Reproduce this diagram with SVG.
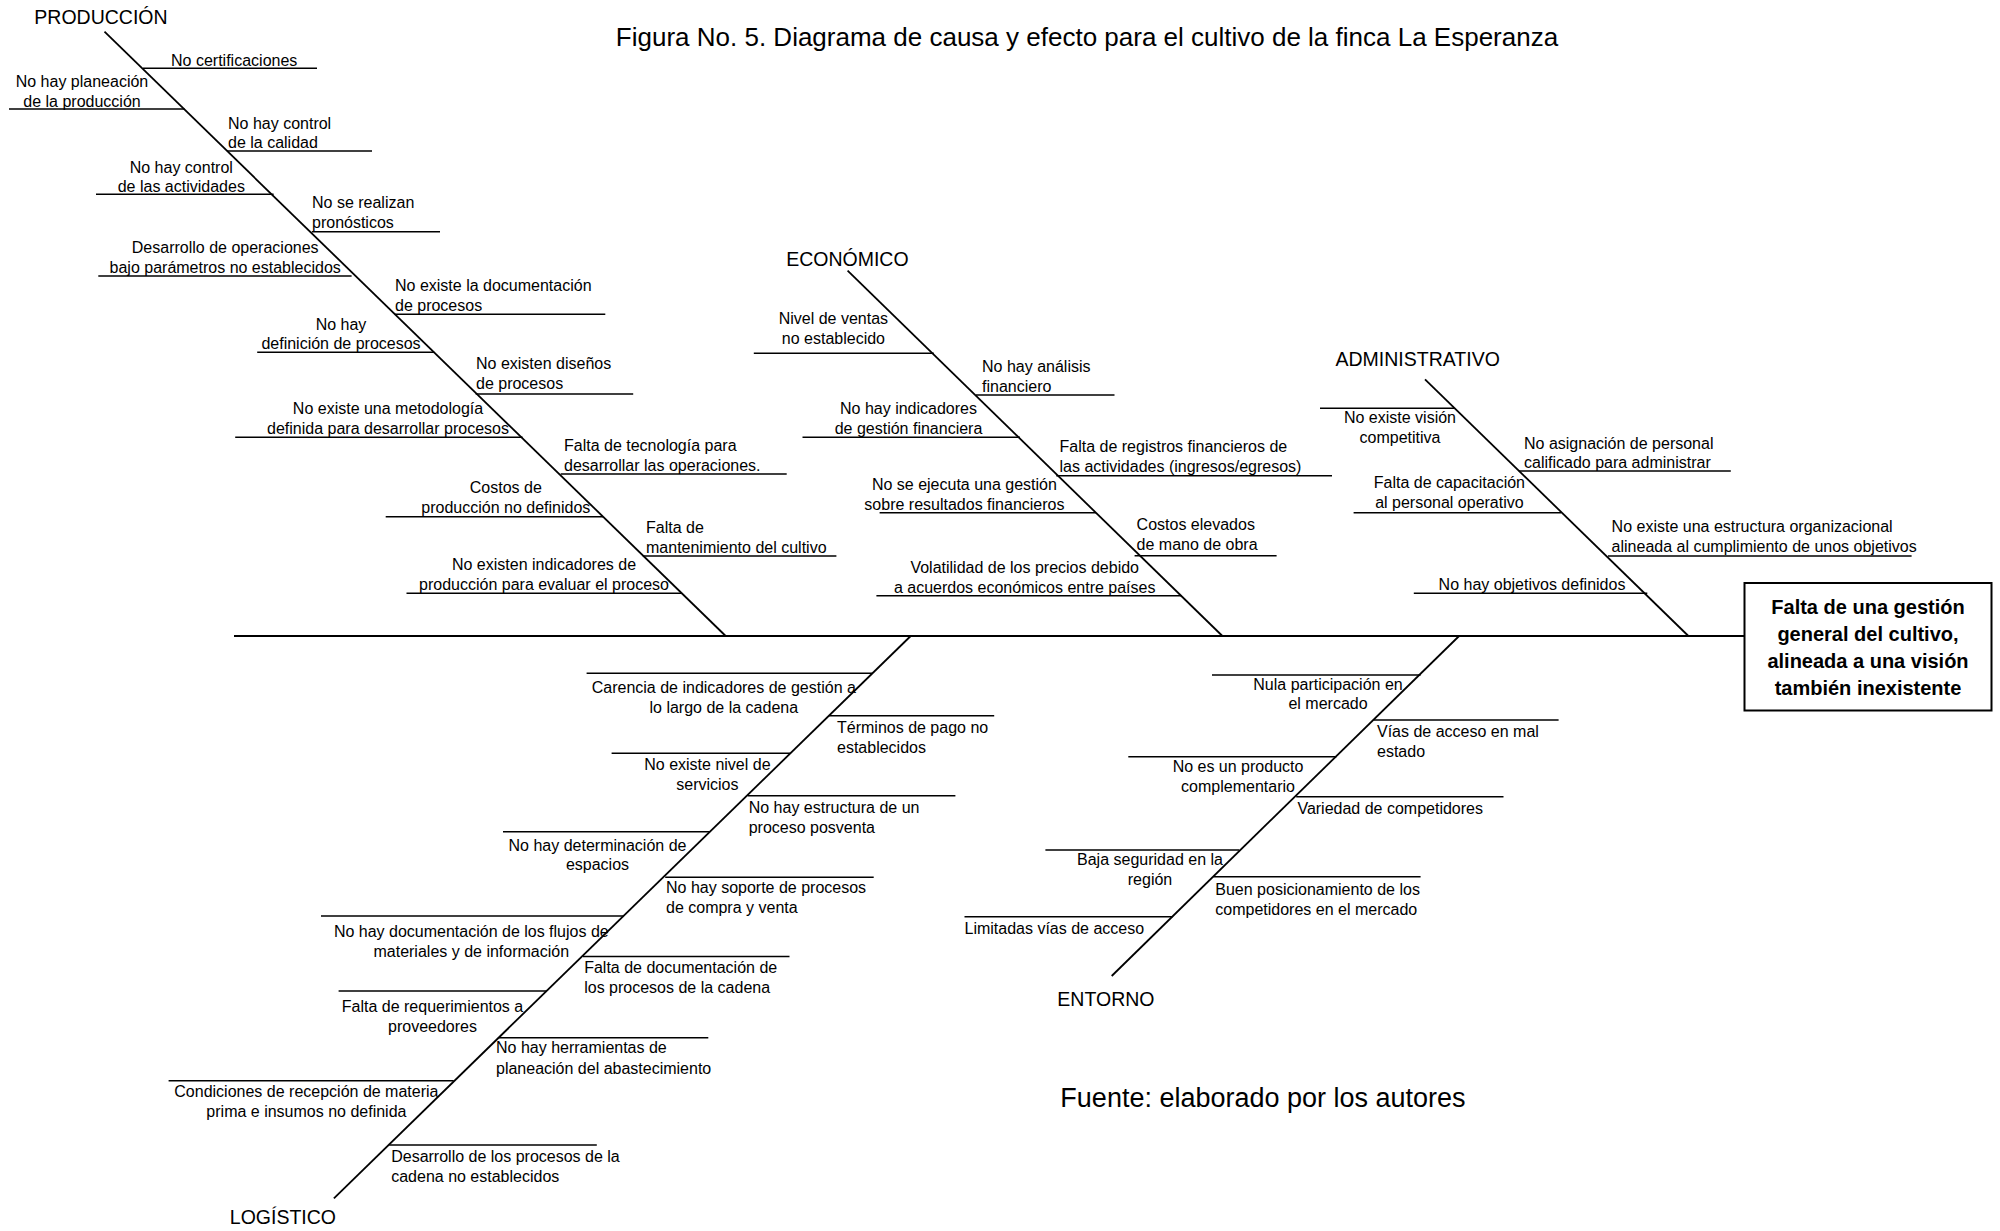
<svg xmlns="http://www.w3.org/2000/svg" width="2000" height="1231" viewBox="0 0 2000 1231">
<style>
  text { font-family: "Liberation Sans", Arial, sans-serif; fill: #000; }
  .c { font-size: 16px; }
  .m { text-anchor: middle; }
  .s { text-anchor: start; }
  .cat { font-size: 19.5px; text-anchor: middle; }
  .title { font-size: 26px; text-anchor: middle; }
  .src { font-size: 27px; text-anchor: middle; }
  .eff { font-size: 20px; font-weight: bold; text-anchor: middle; }
  line { stroke: #000; stroke-width: 1.6; }
  .bone { stroke: #000; stroke-width: 1.8; }
  .box { fill: #fff; stroke: #000; stroke-width: 2; }
</style>
<rect width="2000" height="1231" fill="#fff"/>

<text class="title" x="1087" y="46">Figura No. 5. Diagrama de causa y efecto para el cultivo de la finca La Esperanza</text>
<text class="src" x="1263" y="1107">Fuente: elaborado por los autores</text>

<g id="connectors">
  <line class="bone" x1="234" y1="636" x2="1744.5" y2="636"/>
  <line class="bone" x1="104.5" y1="31.7" x2="725.7" y2="636"/>
  <line class="bone" x1="847.6" y1="270.7" x2="1222.4" y2="636"/>
  <line class="bone" x1="1425" y1="379.3" x2="1688.4" y2="636"/>
  <line class="bone" x1="910.7" y1="636" x2="333.9" y2="1198.3"/>
  <line class="bone" x1="1459.1" y1="636" x2="1111.7" y2="976"/>
</g>

<g id="effect">
  <rect class="box" x="1744.5" y="583" width="247" height="127.5"/>
  <text class="eff" x="1868" y="613.5">Falta de una gestión</text>
  <text class="eff" x="1868" y="640.5">general del cultivo,</text>
  <text class="eff" x="1868" y="667.5">alineada a una visión</text>
  <text class="eff" x="1868" y="694.5">también inexistente</text>
</g>

<!-- PRODUCCIÓN -->
<g id="cat-produccion"><text class="cat" x="101" y="24">PRODUCCIÓN</text></g>
<g id="p1"><line x1="143" y1="68.3" x2="317" y2="68.3"/><text class="c m" x="234.2" y="65.5">No certificaciones</text></g>
<g id="p2"><line x1="9" y1="109" x2="184.5" y2="109"/><text class="c m"><tspan x="82" y="87">No hay planeación</tspan><tspan x="82" y="106.5">de la producción</tspan></text></g>
<g id="p3"><line x1="227" y1="151" x2="372" y2="151"/><text class="c s"><tspan x="228" y="129">No hay control</tspan><tspan x="228" y="148">de la calidad</tspan></text></g>
<g id="p4"><line x1="96" y1="194.3" x2="273.6" y2="194.3"/><text class="c m"><tspan x="181.3" y="172.5">No hay control</tspan><tspan x="181.3" y="191.5">de las actividades</tspan></text></g>
<g id="p5"><line x1="311.8" y1="231.7" x2="440" y2="231.7"/><text class="c s"><tspan x="312" y="208.3">No se realizan</tspan><tspan x="312" y="228.3">pronósticos</tspan></text></g>
<g id="p6"><line x1="98.3" y1="276" x2="351.6" y2="276"/><text class="c m"><tspan x="225.2" y="253.3">Desarrollo de operaciones</tspan><tspan x="225.2" y="272.7">bajo parámetros no establecidos</tspan></text></g>
<g id="p7"><line x1="394.7" y1="314.3" x2="605.3" y2="314.3"/><text class="c s"><tspan x="395" y="290.5">No existe la documentación</tspan><tspan x="395" y="310.5">de procesos</tspan></text></g>
<g id="p8"><line x1="257.2" y1="352.3" x2="434.2" y2="352.3"/><text class="c m"><tspan x="341" y="329.5">No hay</tspan><tspan x="341" y="349">definición de procesos</tspan></text></g>
<g id="p9"><line x1="475.7" y1="394" x2="633.2" y2="394"/><text class="c s"><tspan x="476" y="368.5">No existen diseños</tspan><tspan x="476" y="388.5">de procesos</tspan></text></g>
<g id="p10"><line x1="235.2" y1="437.3" x2="522.6" y2="437.3"/><text class="c m"><tspan x="388" y="414">No existe una metodología</tspan><tspan x="388" y="433.5">definida para desarrollar procesos</tspan></text></g>
<g id="p11"><line x1="560.7" y1="474" x2="786.7" y2="474"/><text class="c s"><tspan x="564" y="450.7">Falta de tecnología para</tspan><tspan x="564" y="470.7">desarrollar las operaciones.</tspan></text></g>
<g id="p12"><line x1="385.7" y1="516.7" x2="603" y2="516.7"/><text class="c m"><tspan x="505.8" y="492.7">Costos de</tspan><tspan x="505.8" y="512.7">producción no definidos</tspan></text></g>
<g id="p13"><line x1="642.8" y1="556" x2="836.4" y2="556"/><text class="c s"><tspan x="646" y="533.3">Falta de</tspan><tspan x="646" y="553.3">mantenimiento del cultivo</tspan></text></g>
<g id="p14"><line x1="406.5" y1="593.3" x2="681" y2="593.3"/><text class="c m"><tspan x="544" y="570">No existen indicadores de</tspan><tspan x="544" y="589.5">producción para evaluar el proceso</tspan></text></g>

<!-- ECONÓMICO -->
<g id="cat-economico"><text class="cat" x="847.4" y="265.7">ECONÓMICO</text></g>
<g id="e1"><line x1="753.8" y1="353.3" x2="933.8" y2="353.3"/><text class="c m"><tspan x="833.4" y="324">Nivel de ventas</tspan><tspan x="833.4" y="344">no establecido</tspan></text></g>
<g id="e2"><line x1="976" y1="395" x2="1114.5" y2="395"/><text class="c s"><tspan x="982" y="371.7">No hay análisis</tspan><tspan x="982" y="391.7">financiero</tspan></text></g>
<g id="e3"><line x1="802.5" y1="437.3" x2="1020" y2="437.3"/><text class="c m"><tspan x="908.5" y="414">No hay indicadores</tspan><tspan x="908.5" y="434">de gestión financiera</tspan></text></g>
<g id="e4"><line x1="1056.3" y1="475.7" x2="1332" y2="475.7"/><text class="c s"><tspan x="1059.5" y="451.7">Falta de registros financieros de</tspan><tspan x="1059.5" y="471.7">las actividades (ingresos/egresos)</tspan></text></g>
<g id="e5"><line x1="879.6" y1="512.7" x2="1095.9" y2="512.7"/><text class="c m"><tspan x="964.4" y="490">No se ejecuta una gestión</tspan><tspan x="964.4" y="510">sobre resultados financieros</tspan></text></g>
<g id="e6"><line x1="1134.6" y1="555.7" x2="1276.6" y2="555.7"/><text class="c s"><tspan x="1136.6" y="530">Costos elevados</tspan><tspan x="1136.6" y="550">de mano de obra</tspan></text></g>
<g id="e7"><line x1="876.4" y1="595.7" x2="1181.7" y2="595.7"/><text class="c m"><tspan x="1024.7" y="573.3">Volatilidad de los precios debido</tspan><tspan x="1024.7" y="592.7">a acuerdos económicos entre países</tspan></text></g>

<!-- ADMINISTRATIVO -->
<g id="cat-administrativo"><text class="cat" x="1417.7" y="365.7">ADMINISTRATIVO</text></g>
<g id="a1"><line x1="1320" y1="408.3" x2="1454" y2="408.3"/><text class="c m"><tspan x="1400" y="423.3">No existe visión</tspan><tspan x="1400" y="443.3">competitiva</tspan></text></g>
<g id="a2"><line x1="1518.8" y1="471" x2="1730.8" y2="471"/><text class="c s"><tspan x="1524" y="449">No asignación de personal</tspan><tspan x="1524" y="468.3">calificado para administrar</tspan></text></g>
<g id="a3"><line x1="1353.6" y1="512.7" x2="1561.2" y2="512.7"/><text class="c m"><tspan x="1449.4" y="488.3">Falta de capacitación</tspan><tspan x="1449.4" y="508.3">al personal operativo</tspan></text></g>
<g id="a4"><line x1="1608" y1="556" x2="1911.6" y2="556"/><text class="c s"><tspan x="1611.6" y="531.7">No existe una estructura organizacional</tspan><tspan x="1611.6" y="551.7">alineada al cumplimiento de unos objetivos</tspan></text></g>
<g id="a5"><line x1="1413.8" y1="593.3" x2="1647.3" y2="593.3"/><text class="c m" x="1532" y="590">No hay objetivos definidos</text></g>

<!-- LOGÍSTICO -->
<g id="cat-logistico"><text class="cat" x="282.9" y="1224">LOGÍSTICO</text></g>
<g id="l1"><line x1="586.6" y1="673.3" x2="872.3" y2="673.3"/><text class="c m"><tspan x="723.8" y="693.3">Carencia de indicadores de gestión a</tspan><tspan x="723.8" y="712.7">lo largo de la cadena</tspan></text></g>
<g id="l2"><line x1="829" y1="715.7" x2="994.2" y2="715.7"/><text class="c s"><tspan x="837" y="733.3">Términos de pago no</tspan><tspan x="837" y="752.7">establecidos</tspan></text></g>
<g id="l3"><line x1="611.6" y1="753.3" x2="790.2" y2="753.3"/><text class="c m"><tspan x="707.4" y="770">No existe nivel de</tspan><tspan x="707.4" y="790">servicios</tspan></text></g>
<g id="l4"><line x1="747.8" y1="795.7" x2="955.4" y2="795.7"/><text class="c s"><tspan x="748.7" y="813.3">No hay estructura de un</tspan><tspan x="748.7" y="833.3">proceso posventa</tspan></text></g>
<g id="l5"><line x1="503" y1="831.7" x2="709.8" y2="831.7"/><text class="c m"><tspan x="597.5" y="851">No hay determinación de</tspan><tspan x="597.5" y="870">espacios</tspan></text></g>
<g id="l6"><line x1="665.2" y1="877.3" x2="873.7" y2="877.3"/><text class="c s"><tspan x="666" y="893.3">No hay soporte de procesos</tspan><tspan x="666" y="913.3">de compra y venta</tspan></text></g>
<g id="l7"><line x1="321" y1="916" x2="623.7" y2="916"/><text class="c m"><tspan x="471.3" y="936.7">No hay documentación de los flujos de</tspan><tspan x="471.3" y="956.7">materiales y de información</tspan></text></g>
<g id="l8"><line x1="583" y1="956.5" x2="789.5" y2="956.5"/><text class="c s"><tspan x="584.2" y="973.3">Falta de documentación de</tspan><tspan x="584.2" y="992.7">los procesos de la cadena</tspan></text></g>
<g id="l9"><line x1="338.6" y1="991" x2="546.2" y2="991"/><text class="c m"><tspan x="432.5" y="1011.7">Falta de requerimientos a</tspan><tspan x="432.5" y="1031.7">proveedores</tspan></text></g>
<g id="l10"><line x1="498.8" y1="1037.7" x2="708.3" y2="1037.7"/><text class="c s"><tspan x="496" y="1053.3">No hay herramientas de</tspan><tspan x="496" y="1074">planeación del abastecimiento</tspan></text></g>
<g id="l11"><line x1="168.6" y1="1080.7" x2="453.7" y2="1080.7"/><text class="c m"><tspan x="306.4" y="1096.7">Condiciones de recepción de materia</tspan><tspan x="306.4" y="1116.7">prima e insumos no definida</tspan></text></g>
<g id="l12"><line x1="389.2" y1="1145" x2="596.8" y2="1145"/><text class="c s"><tspan x="391.2" y="1161.7">Desarrollo de los procesos de la</tspan><tspan x="391.2" y="1181.7">cadena no establecidos</tspan></text></g>

<!-- ENTORNO -->
<g id="cat-entorno"><text class="cat" x="1105.9" y="1005.7">ENTORNO</text></g>
<g id="n1"><line x1="1212" y1="675" x2="1420.6" y2="675"/><text class="c m"><tspan x="1328" y="690">Nula participación en</tspan><tspan x="1328" y="709.3">el mercado</tspan></text></g>
<g id="n2"><line x1="1373.7" y1="720" x2="1558.6" y2="720"/><text class="c s"><tspan x="1377" y="736.7">Vías de acceso en mal</tspan><tspan x="1377" y="756.7">estado</tspan></text></g>
<g id="n3"><line x1="1128.3" y1="756.7" x2="1336.4" y2="756.7"/><text class="c m"><tspan x="1238" y="771.7">No es un producto</tspan><tspan x="1238" y="791.7">complementario</tspan></text></g>
<g id="n4"><line x1="1296.2" y1="796.7" x2="1503.5" y2="796.7"/><text class="c s" x="1297.4" y="814.3">Variedad de competidores</text></g>
<g id="n5"><line x1="1045.4" y1="850" x2="1239.4" y2="850"/><text class="c m"><tspan x="1150" y="865">Baja seguridad en la</tspan><tspan x="1150" y="885">región</tspan></text></g>
<g id="n6"><line x1="1213.3" y1="876.7" x2="1420.6" y2="876.7"/><text class="c s"><tspan x="1215.3" y="895">Buen posicionamiento de los</tspan><tspan x="1215.3" y="915">competidores en el mercado</tspan></text></g>
<g id="n7"><line x1="964.5" y1="916.7" x2="1172.6" y2="916.7"/><text class="c s" x="964.5" y="934">Limitadas vías de acceso</text></g>
</svg>
